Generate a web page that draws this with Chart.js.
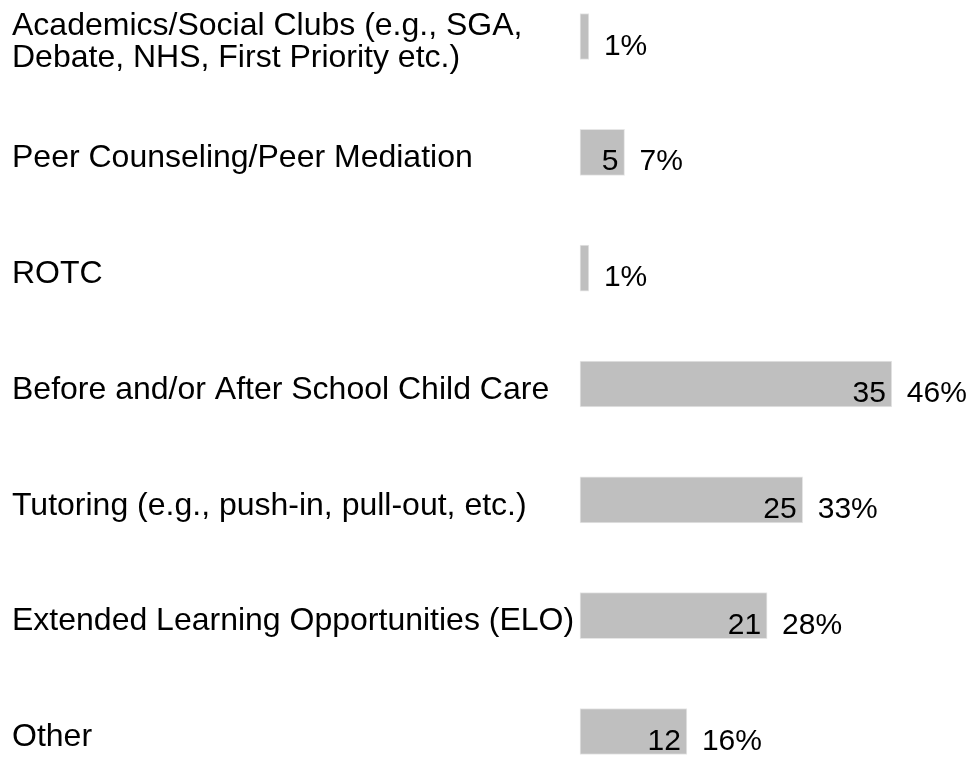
<!DOCTYPE html>
<html>
<head>
<meta charset="utf-8">
<script src="https://cdn.jsdelivr.net/npm/chart.js@4/dist/chart.umd.min.js"></script>
<style>
  html, body { margin: 0; padding: 0; background: #fff; }
  #wrap { width: 974px; height: 758px; }
</style>
</head>
<body>
<div id="wrap"><canvas id="myChart" width="974" height="758"></canvas></div>
<script>
const categories = [
  ['Academics/Social Clubs (e.g., SGA,', 'Debate, NHS, First Priority etc.)'],
  'Peer Counseling/Peer Mediation',
  'ROTC',
  'Before and/or After School Child Care',
  'Tutoring (e.g., push-in, pull-out, etc.)',
  'Extended Learning Opportunities (ELO)',
  'Other',
];
const counts = [1, 5, 1, 35, 25, 21, 12];
const percentLabels = ['1%', '7%', '1%', '46%', '33%', '28%', '16%'];

// draws the count inside the bar and the percent after it
const barLabels = {
  id: 'barLabels',
  afterDatasetsDraw(chart) {
    const ctx = chart.ctx;
    const meta = chart.getDatasetMeta(0);
    ctx.save();
    ctx.font = '30px "Liberation Sans", Arial, sans-serif';
    ctx.fillStyle = '#000';
    ctx.textBaseline = 'alphabetic';
    meta.data.forEach((bar, i) => {
      const y = bar.y + 18;
      if (bar.x - bar.base > 30) {
        ctx.textAlign = 'right';
        ctx.fillText(String(counts[i]), bar.x - 6, y);
      }
      ctx.textAlign = 'left';
      ctx.fillText(percentLabels[i], bar.x + 15, y);
    });
    ctx.restore();
  }
};

const ctx = document.getElementById('myChart').getContext('2d');
const chart = new Chart(ctx, {
  type: 'bar',
  data: {
    labels: categories,
    datasets: [{
      data: counts,
      backgroundColor: '#bfbfbf',
      borderColor: '#e6e6e6',
      borderWidth: 1,
      borderSkipped: false,
      barThickness: 46,
      clip: false,
    }],
  },
  options: {
    indexAxis: 'y',
    responsive: false,
    animation: false,
    layout: { padding: { left: 12, right: 2, top: 36.5, bottom: 26.5 } },
    plugins: {
      legend: { display: false },
      tooltip: { enabled: false },
    },
    scales: {
      x: {
        display: false,
        min: 0,
        max: 44,
      },
      y: {
        offset: false,
        grid: { display: false },
        border: { display: false },
        ticks: {
          crossAlign: 'far',
          color: '#000',
          padding: 0,
          labelOffset: 6,
          font: { family: '"Liberation Sans", Arial, sans-serif', size: 32, lineHeight: 1.0 },
        },
        afterFit(scale) {
          scale.width = 568;
          scale.paddingTop = 0;
          scale.paddingBottom = 0;
        },
      },
    },
  },
  plugins: [barLabels],
});
</script>
</body>
</html>
